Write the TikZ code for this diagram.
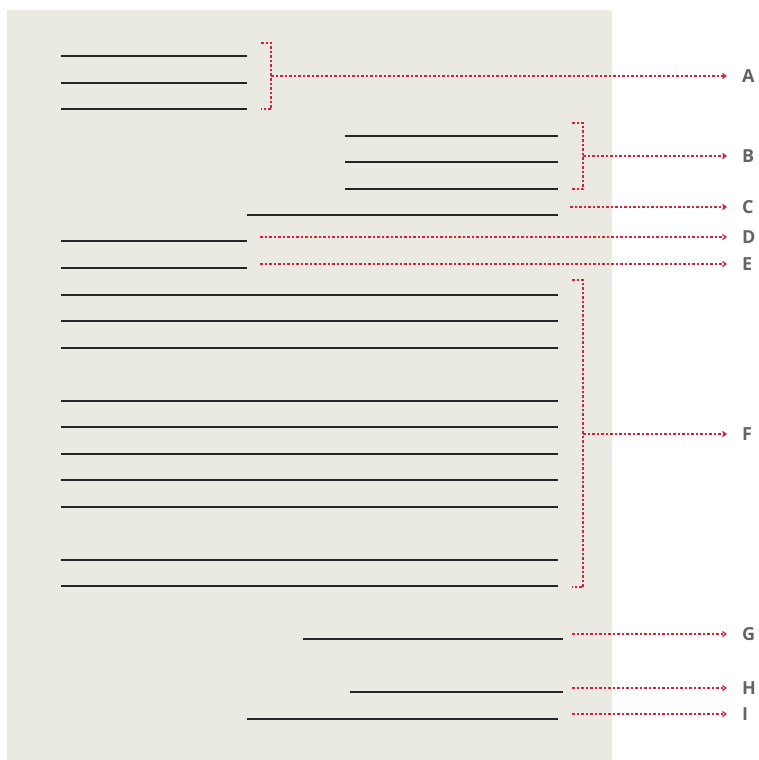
\documentclass[tikz,border=0pt]{standalone}
\usepackage{fontspec}
\setmainfont{Open Sans}
\usetikzlibrary{arrows.meta}
\definecolor{paper}{RGB}{235,234,226}
\definecolor{mark}{RGB}{208,36,58}
\definecolor{lbl}{RGB}{100,100,100}
\begin{document}
\begin{tikzpicture}[x=1pt,y=-1pt,
  txt/.style={draw=black!85,line width=1.1pt},
  brk/.style={draw=mark,line width=1.3pt,dash pattern=on 2.5pt off 2pt},
  arr/.style={brk,-{Straight Barb[length=3.5pt,width=5pt,line width=1.2pt]}},
  lab/.style={anchor=west,inner sep=0pt,text=lbl,font=\fontsize{18}{18}\selectfont\bfseries}]
\useasboundingbox (0,0) rectangle (758,760);
\fill[paper] (7,10) rectangle (612,760);
% text lines
\foreach \y in {56,83,109} \draw[txt] (61,\y) -- (247,\y);
\foreach \y in {136,162,189} \draw[txt] (345,\y) -- (558,\y);
\draw[txt] (247,215) -- (558,215);
\draw[txt] (61,241) -- (247,241);
\draw[txt] (61,268) -- (247,268);
\foreach \y in {295,321,348,401,427,454,480,507,560,586} \draw[txt] (61,\y) -- (558,\y);
\draw[txt] (303,639) -- (563,639);
\draw[txt] (350,692) -- (563,692);
\draw[txt] (247,719) -- (558,719);
% labels
\foreach \n/\y in {A/76,B/156,C/207,D/237,E/264,F/434,G/634,H/688,I/714}
  \node[lab] (l\n) at (742,\y) {\n};
% brackets
\draw[brk] (261,43) -- (271,43) -- (271,109) -- (261,109);
\draw[brk] (572,123) -- (583,123) -- (583,189) -- (572,189);
\draw[brk] (572,280) -- (583,280) -- (583,587) -- (572,587);
\coordinate (sA) at (271,76);
\coordinate (sB) at (583,156);
\coordinate (sC) at (570,207);
\coordinate (sD) at (260,237);
\coordinate (sE) at (260,264);
\coordinate (sF) at (583,434);
\coordinate (sG) at (572,634);
\coordinate (sH) at (572,688);
\coordinate (sI) at (572,714);
\foreach \n in {A,B,C,D,E,F,G,H,I}
  \draw[arr] (s\n) -- ([xshift=-15pt]l\n.west);
\end{tikzpicture}
\end{document}
